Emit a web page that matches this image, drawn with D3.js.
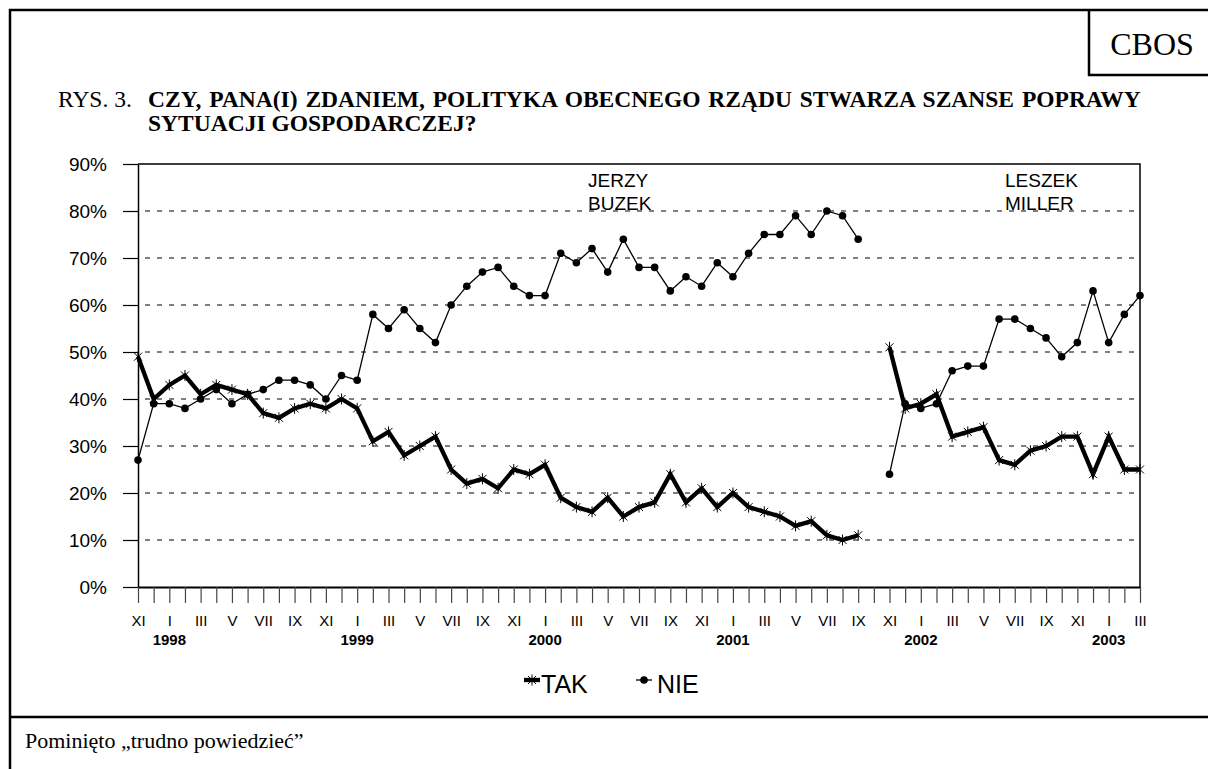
<!DOCTYPE html>
<html>
<head>
<meta charset="utf-8">
<script src="https://cdn.jsdelivr.net/npm/d3@7"></script>
<style>
  body { margin: 0; background: #fff; }
  svg text { fill: #000; }
</style>
</head>
<body>
<div class="chart"></div>
<script>
// months from XI 1997 to III 2003, label only every second month
var monthLabels = ["XI","","I","","III","","V","","VII","","IX","",
  "XI","","I","","III","","V","","VII","","IX","",
  "XI","","I","","III","","V","","VII","","IX","",
  "XI","","I","","III","","V","","VII","","IX","",
  "XI","","I","","III","","V","","VII","","IX","",
  "XI","","I","","III"];
var yearLabels = ["1998","1999","2000","2001","2002","2003"];
var yearIndex = [2, 14, 26, 38, 50, 62];
var yTicks = [0,10,20,30,40,50,60,70,80,90];

// X 2001 (index 47) has no survey
var tak = [49,40,43,45,41,43,42,41,37,36,38,39,38,40,38,31,33,28,30,32,
  25,22,23,21,25,24,26,19,17,16,19,15,17,18,24,18,21,17,20,17,
  16,15,13,14,11,10,11,null,51,38,39,41,32,33,34,27,26,29,30,32,
  32,24,32,25,25];
var nie = [27,39,39,38,40,42,39,41,42,44,44,43,40,45,44,58,55,59,55,52,
  60,64,67,68,64,62,62,71,69,72,67,74,68,68,63,66,64,69,66,71,
  75,75,79,75,80,79,74,null,24,39,38,39,46,47,47,57,57,55,53,49,
  52,63,52,58,62];

var W = 1208, H = 769;
var svg = d3.select(".chart").append("svg")
  .attr("width", W).attr("height", H);

var x = d3.scaleLinear().domain([0, monthLabels.length - 1]).range([138, 1140]);
var y = d3.scaleLinear().domain([0, 90]).range([587, 164]);

// frame
svg.append("path").attr("d", "M10,769V10H1208").attr("fill", "none")
  .attr("stroke", "#000").attr("stroke-width", 2.5);
svg.append("path").attr("d", "M1089,10V75H1208").attr("fill", "none")
  .attr("stroke", "#000").attr("stroke-width", 2.5);
svg.append("line").attr("x1", 10).attr("x2", 1208).attr("y1", 717).attr("y2", 717)
  .attr("stroke", "#000").attr("stroke-width", 2.5);

svg.append("text").attr("x", 1152).attr("y", 55).attr("text-anchor", "middle")
  .style("font-family", "Liberation Serif").style("font-size", "32px").text("CBOS");

// title (first line justified like in the document)
var title = svg.append("text").attr("y", 107)
  .style("font-family", "Liberation Serif").style("font-size", "23.5px");
title.append("tspan").attr("x", 58).text("RYS. 3.");
title.append("tspan").attr("x", 148).style("font-weight", "bold").style("word-spacing", "2px")
  .text("CZY, PANA(I) ZDANIEM, POLITYKA OBECNEGO RZĄDU STWARZA SZANSE POPRAWY");
svg.append("text").attr("x", 148).attr("y", 131)
  .style("font-family", "Liberation Serif").style("font-size", "23.5px").style("font-weight", "bold")
  .text("SYTUACJI GOSPODARCZEJ?");

// gridlines
svg.append("g").selectAll("line")
  .data(yTicks.filter(d => d > 0 && d < 90))
  .enter().append("line")
  .attr("x1", x(0)).attr("x2", x(64))
  .attr("y1", d => y(d)).attr("y2", d => y(d))
  .attr("stroke", "#000").attr("stroke-width", 1)
  .attr("stroke-dasharray", "5,7").attr("stroke-dashoffset", -7);

// plot box top and right
svg.append("path")
  .attr("d", `M${x(0)},${y(90)}H${x(64)}V${y(0)}`)
  .attr("fill", "none").attr("stroke", "#000").attr("stroke-width", 1.5);

// y axis
var yAxis = svg.append("g").attr("transform", `translate(${x(0)},0)`)
  .call(d3.axisLeft(y).tickValues(yTicks).tickFormat(d => d + "%")
    .tickSize(15).tickSizeOuter(0).tickPadding(16));
yAxis.select(".domain").attr("stroke-width", 1.5);
yAxis.selectAll("line").attr("stroke-width", 1.2);
yAxis.selectAll("text").style("font-family", "Liberation Sans").style("font-size", "19px");

// x axis
var xAxis = svg.append("g").attr("transform", `translate(0,${y(0)})`)
  .call(d3.axisBottom(x).tickValues(d3.range(monthLabels.length))
    .tickFormat(i => monthLabels[i]).tickSize(16).tickSizeOuter(0).tickPadding(12));
xAxis.select(".domain").attr("stroke-width", 2);
xAxis.selectAll(".tick line").attr("stroke", "#444").attr("stroke-width", 1.2);
xAxis.selectAll("text").style("font-family", "Liberation Sans").style("font-size", "15px");

svg.append("g").selectAll("text").data(yearLabels).enter().append("text")
  .attr("x", (d, i) => x(yearIndex[i])).attr("y", 645)
  .attr("text-anchor", "middle")
  .style("font-family", "Liberation Sans").style("font-size", "15px").style("font-weight", "bold")
  .text(d => d);

// series
var line = d3.line().defined(d => d != null)
  .x((d, i) => x(i)).y(d => y(d));
var star = "M-4,-4L4,4M-4,4L4,-4M0,-5.5V5.5";

svg.append("path").datum(nie).attr("d", line)
  .attr("fill", "none").attr("stroke", "#000").attr("stroke-width", 1.3);
svg.append("g").selectAll("circle")
  .data(nie.map((v, i) => [i, v]).filter(d => d[1] != null))
  .enter().append("circle")
  .attr("cx", d => x(d[0])).attr("cy", d => y(d[1])).attr("r", 3.8).attr("fill", "#000");

svg.append("path").datum(tak).attr("d", line)
  .attr("fill", "none").attr("stroke", "#000").attr("stroke-width", 4.3)
  .attr("stroke-linejoin", "miter");
svg.append("g").selectAll("path")
  .data(tak.map((v, i) => [i, v]).filter(d => d[1] != null))
  .enter().append("path")
  .attr("transform", d => `translate(${x(d[0])},${y(d[1])})`)
  .attr("d", star).attr("stroke", "#000").attr("stroke-width", 1).attr("fill", "none");

// annotations
var notes = svg.append("g").style("font-family", "Liberation Sans").style("font-size", "19px");
notes.append("text").attr("x", 588).attr("y", 187).text("JERZY");
notes.append("text").attr("x", 588).attr("y", 210).text("BUZEK");
notes.append("text").attr("x", 1005).attr("y", 187).text("LESZEK");
notes.append("text").attr("x", 1005).attr("y", 210).text("MILLER");

// legend
var leg = svg.append("g");
leg.append("line").attr("x1", 524).attr("x2", 540).attr("y1", 680).attr("y2", 680)
  .attr("stroke", "#000").attr("stroke-width", 4.3);
leg.append("path").attr("transform", "translate(532,680)").attr("d", star)
  .attr("stroke", "#000").attr("fill", "none");
leg.append("text").attr("x", 541).attr("y", 693)
  .style("font-family", "Liberation Sans").style("font-size", "25px").text("TAK");
leg.append("line").attr("x1", 636).attr("x2", 652).attr("y1", 680).attr("y2", 680)
  .attr("stroke", "#000").attr("stroke-width", 1.3);
leg.append("circle").attr("cx", 644).attr("cy", 680).attr("r", 3.8).attr("fill", "#000");
leg.append("text").attr("x", 657).attr("y", 693)
  .style("font-family", "Liberation Sans").style("font-size", "25px").text("NIE");

// footer
svg.append("text").attr("x", 25).attr("y", 748)
  .style("font-family", "Liberation Serif").style("font-size", "22px")
  .text("Pominięto „trudno powiedzieć”");
</script>
</body>
</html>
